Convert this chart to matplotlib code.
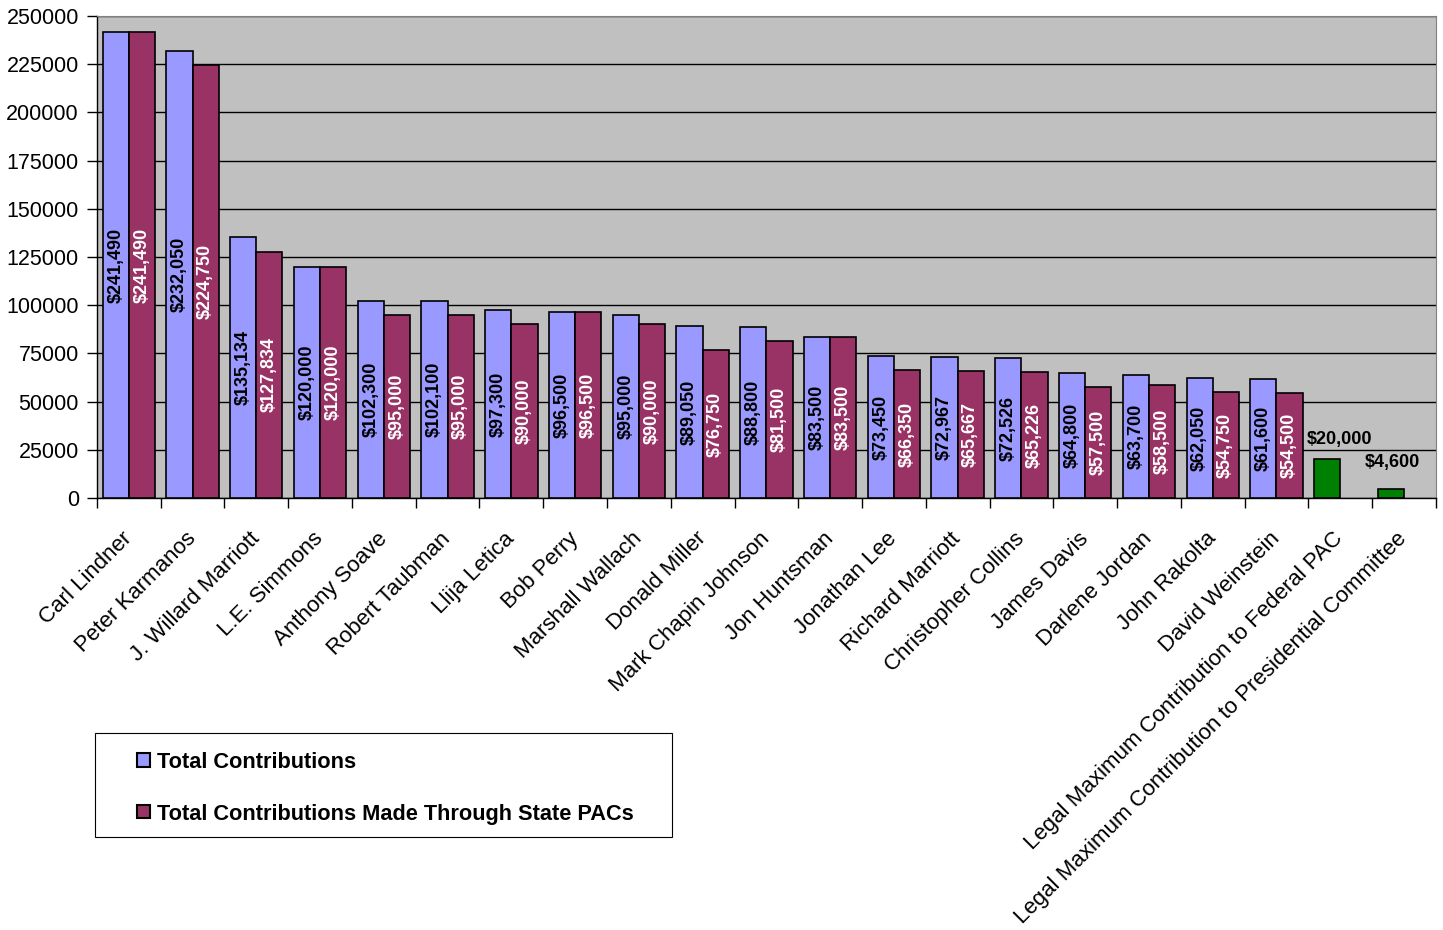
import numpy as np
import matplotlib
matplotlib.use("Agg")
from matplotlib import pyplot as plt
from matplotlib.patches import Rectangle
from matplotlib.ticker import MultipleLocator, FixedLocator

plt.rcParams["font.family"] = ["Liberation Sans", "DejaVu Sans"]

donors = [
    "Carl Lindner", "Peter Karmanos", "J. Willard Marriott", "L.E. Simmons",
    "Anthony Soave", "Robert Taubman", "Llija Letica", "Bob Perry",
    "Marshall Wallach", "Donald Miller", "Mark Chapin Johnson", "Jon Huntsman",
    "Jonathan Lee", "Richard Marriott", "Christopher Collins", "James Davis",
    "Darlene Jordan", "John Rakolta", "David Weinstein",
]
total = [241490, 232050, 135134, 120000, 102300, 102100, 97300, 96500,
         95000, 89050, 88800, 83500, 73450, 72967, 72526, 64800, 63700,
         62050, 61600]
via_pacs = [241490, 224750, 127834, 120000, 95000, 95000, 90000, 96500,
            90000, 76750, 81500, 83500, 66350, 65667, 65226, 57500, 58500,
            54750, 54500]

limit_labels = ["Legal Maximum Contribution to Federal PAC",
                "Legal Maximum Contribution to Presidential Committee"]
limits = [20000, 4600]

series_names = ["Total Contributions", "Total Contributions Made Through State PACs"]

BLUE = "#9999FF"
PLUM = "#993366"
GREEN = "#008000"

fig = plt.figure(figsize=(14.43, 9.30), dpi=100)
ax = fig.add_axes([0.0672, 0.4645, 0.9278, 0.5183])

n = len(donors) + len(limits)
x = np.arange(n)
w = 0.41

xd = x[:len(donors)]
xl = x[len(donors):]

b1 = ax.bar(xd - w / 2, total, width=w, color=BLUE, edgecolor="black", linewidth=1.2, zorder=3)
b2 = ax.bar(xd + w / 2, via_pacs, width=w, color=PLUM, edgecolor="black", linewidth=1.2, zorder=3)
b3 = ax.bar(xl - w / 2, limits, width=w, color=GREEN, edgecolor="black", linewidth=1.2, zorder=3)

# value labels centred inside the bars
for bars, col in ((b1, "black"), (b2, "white")):
    for rect in bars:
        v = rect.get_height()
        ax.text(rect.get_x() + rect.get_width() / 2, v / 2, f"${v:,.0f}",
                rotation=90, ha="center", va="center", color=col,
                fontsize=13, fontweight="bold", zorder=4)

# the two legal-limit labels sit above their bars, nudged by hand in the original
for rect, (dx, dy) in zip(b3, [(12, 11), (2, 18)]):
    v = rect.get_height()
    ax.annotate(f"${v:,.0f}", (rect.get_x() + rect.get_width() / 2, v),
                xytext=(dx, dy), textcoords="offset pixels",
                ha="center", va="bottom", fontsize=13, fontweight="bold", zorder=4)

ax.set_xlim(-0.5, n - 0.5)
ax.set_ylim(0, 250000)
ax.yaxis.set_major_locator(MultipleLocator(25000))
ax.set_facecolor("#C0C0C0")
ax.grid(axis="y", color="black", linewidth=1.0, zorder=1)
ax.set_axisbelow(True)

ax.set_xticks(x)
ax.set_xticklabels(donors + limit_labels, rotation=45, ha="right", va="center",
                   rotation_mode="anchor", fontsize=16)
ax.tick_params(axis="x", length=0, pad=27)
ax.xaxis.set_minor_locator(FixedLocator(np.arange(-0.5, n, 1.0)))
ax.tick_params(axis="x", which="minor", length=7, width=1.0, direction="out")
ax.tick_params(axis="y", labelsize=15.5, length=7, width=1.0, direction="out", pad=6)

for side in ("top", "right"):
    ax.spines[side].set_color("#808080")
for side in ("left", "bottom"):
    ax.spines[side].set_color("black")
    ax.spines[side].set_linewidth(1.0)

# ---- legend box drawn by hand to get the wide left margin ----
fig.patches.append(Rectangle((0.0658, 0.100), 0.3999, 0.1118, transform=fig.transFigure,
                             facecolor="white", edgecolor="black", linewidth=0.8))
for yc, col, name in zip([0.1828, 0.1269], [BLUE, PLUM], series_names):
    fig.patches.append(Rectangle((0.0949, yc - 0.007), 0.009, 0.014, transform=fig.transFigure,
                                 facecolor=col, edgecolor="black", linewidth=1.5))
    fig.text(0.1088, yc - 0.003, name, ha="left", va="center", fontsize=15.7, fontweight="bold")

fig.savefig("out.png", dpi=100)
